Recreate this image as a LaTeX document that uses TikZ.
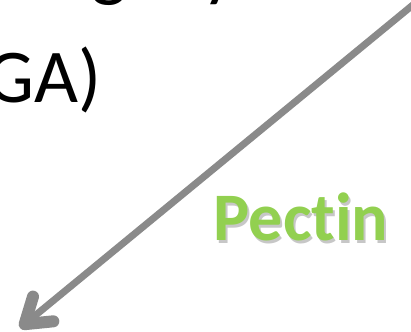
\documentclass[tikz,border=0pt]{standalone}
\usepackage{fontspec}
\setmainfont{Carlito}[Ligatures=NoCommon]
\usetikzlibrary{arrows.meta}
\definecolor{arrowgray}{RGB}{138,138,138}
\definecolor{pectingreen}{RGB}{146,208,80}

\begin{document}
\begin{tikzpicture}[x=1pt, y=-1pt,
  bigtext/.style={font=\fontsize{76}{80}\selectfont, inner sep=0pt},
  label/.style={font=\fontsize{68}{72}\selectfont\bfseries, inner sep=0pt},
  link/.style={arrowgray, line width=7pt, -{Straight Barb[length=24pt, width=32pt, line width=12pt, round]}}]
  \useasboundingbox (0,0) rectangle (411,331);
  \clip (0,0) rectangle (411,331);
  % text cut off at the top edge
  \node[bigtext, anchor=base west] (topline) at (91,-7) {geny};
  \node[bigtext, anchor=base east] (abbrev) at (102,103) {GA)};
  % arrow coming in from the upper right
  \coordinate (start) at (425,-5);
  \coordinate (tip) at (20,328);
  \draw[link] (start) -- (tip);
  % label with soft shadow
  \node[label, text=black, opacity=0.22] (pectinshadow) at (303,220) {Pectin};
  \node[label, text=pectingreen] (pectin) at (301,217) {Pectin};
\end{tikzpicture}
\end{document}
